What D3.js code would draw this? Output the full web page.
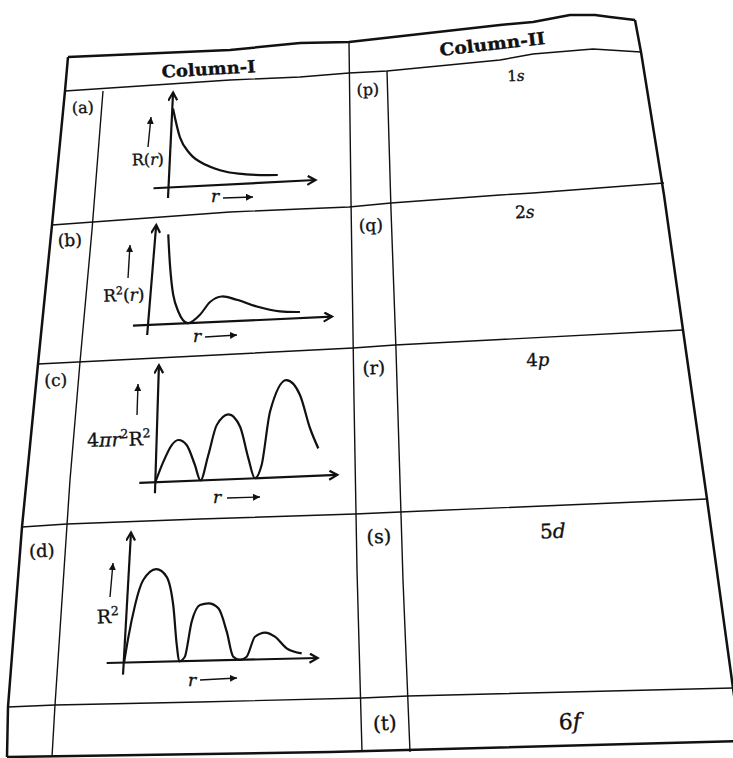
<!DOCTYPE html>
<html>
<head>
<meta charset="utf-8">
<script src="https://cdn.jsdelivr.net/npm/d3@7"></script>
<style>
body{margin:0;background:#fff;}
svg{display:block;}
text{font-family:"DejaVu Serif","Liberation Serif",serif;fill:#111;stroke:#111;stroke-width:0.35px;}
</style>
</head>
<body>
<svg id="chart" width="733" height="758"></svg>
<script>
// ---- data ----
var headers = ["Column-I", "Column-II"];
var leftLabels = ["(a)", "(b)", "(c)", "(d)"];
var rightLabels = ["(p)", "(q)", "(r)", "(s)", "(t)"];
var shellNumbers = ["1", "2", "4", "5", "6"];
var orbitalLetters = ["s", "s", "p", "d", "f"];

// y-axis captions: [text, superscript?, italic?]
var captionA = [["R",0,0],["(",0,0],["r",0,1],[")",0,0]];
var captionB = [["R",0,0],["2",1,0],["(",0,0],["r",0,1],[")",0,0]];
var captionC = [["4",0,0],["\u03c0",0,1],["r",0,1],["2",1,0],["R",0,0],["2",1,0]];
var captionD = [["R",0,0],["2",1,0]];

// curves, [r, value] on a 0..10 frame for each little plot
var curveA = [[0.05,8.3],[0.61,5.26],[1.34,3.47],[2.5,2.17],[3.88,1.35],[5.24,0.97],[7.41,0.73]];
var curveB = [[0.70,9.0],[0.93,5.93],[1.24,2.92],[1.59,1.22],[2.18,0.0],[2.79,0.8],[3.28,2.02],
  [3.89,2.53],[4.73,2.13],[5.85,1.37],[7.14,0.77],[8.23,0.62]];
var curveC = [[0,0],[0.41,1.74],[0.84,3.13],[1.19,3.54],[1.66,3.08],[2.15,1.34],[2.49,0],
  [2.87,2.15],[3.28,4.68],[3.9,5.56],[4.57,4.46],[5.08,1.73],[5.48,0],[5.82,1.11],
  [6.19,5.64],[7.02,8.29],[7.81,6.97],[8.42,4.09],[8.91,2.34]];
var curveD = [[0.02,0],[0.16,1.86],[0.42,4.41],[0.77,6.32],[1.40,7.14],[1.97,6.53],[2.39,4.34],
  [2.69,1.25],[2.87,0],[3.14,0.34],[3.39,3.02],[3.77,4.29],[4.2,4.41],[4.73,4.01],[5.23,2.19],
  [5.64,0.25],[6.0,0],[6.33,0.23],[6.7,1.75],[7.21,2.05],[7.73,1.72],[8.37,0.8],[9.16,0.39]];

// ---- layout of the scanned table (page pixels) ----
var outer = [
  [[68,57],[230,50],[300,43],[349,42],[500,25],[533,22],[570,15],[595,15],[610,17],[635,20]],
  [[635,20],[641,52],[664,195],[683,330],[707,499],[733,688],[741,745]],
  [[68,57],[65,91],[52,225],[38,364],[22,527],[8,707],[7,757]],
  [[7,757],[330,752],[740,741]]
];
var inner = [
  [[65,91],[230,80],[300,77],[349,73],[387,71],[500,60],[533,54],[593,49],[641,52]],
  [[52,225],[230,212],[300,209],[349,207],[391,203],[500,195],[533,193],[664,183]],
  [[38,364],[78,362],[353,348],[395,345],[683,330]],
  [[22,527],[67,524],[200,519],[355,514],[400,512],[707,499]],
  [[8,707],[55,705],[200,702],[362,698],[408,696],[735,688]],
  [[349,42],[351,200],[354,400],[357,570],[362,752]],
  [[387,71],[391,210],[396,350],[403,580],[410,752]],
  [[103,91],[92,230],[80,362],[70,480],[67,525],[55,705],[52,757]]
];

var svg = d3.select("#chart");
var defs = svg.append("defs");
defs.append("marker").attr("id","chev")
  .attr("markerUnits","userSpaceOnUse").attr("markerWidth",12).attr("markerHeight",12)
  .attr("refX",9).attr("refY",5).attr("orient","auto")
  .append("path").attr("d","M1,0.5 L9,5 L1,9.5")
  .attr("fill","none").attr("stroke","#111").attr("stroke-width",2.2);
defs.append("marker").attr("id","tri")
  .attr("markerUnits","userSpaceOnUse").attr("markerWidth",10).attr("markerHeight",10)
  .attr("refX",7).attr("refY",3.5).attr("orient","auto")
  .append("path").attr("d","M0,0 L7,3.5 L0,7 Z").attr("fill","#111");

var poly = d3.line();

svg.append("g").selectAll("path").data(inner).enter().append("path")
  .attr("d", poly).attr("fill","none").attr("stroke","#111").attr("stroke-width",1.4);
svg.append("g").selectAll("path").data(outer).enter().append("path")
  .attr("d", poly).attr("fill","none").attr("stroke","#111").attr("stroke-width",2.5)
  .attr("stroke-linejoin","round");

// headers
var headerPos = [{x:209,y:75,rot:-3.5,len:94},{x:493,y:50,rot:-6.5,len:106}];
svg.selectAll("text.head").data(headers).enter().append("text").attr("class","head")
  .attr("text-anchor","middle").attr("font-weight","bold").attr("font-size",17)
  .attr("textLength",function(d,i){return headerPos[i].len;})
  .attr("lengthAdjust","spacingAndGlyphs")
  .attr("transform",function(d,i){var p=headerPos[i];return "translate("+p.x+","+p.y+") rotate("+p.rot+")";})
  .text(function(d){return d;});

// row letters
var leftPos = [[83,113,16],[70,246,17],[56,386,17],[42,557,18]];
svg.selectAll("text.ll").data(leftLabels).enter().append("text").attr("class","ll")
  .attr("text-anchor","middle")
  .attr("font-size",function(d,i){return leftPos[i][2];})
  .attr("transform",function(d,i){return "translate("+leftPos[i][0]+","+leftPos[i][1]+") rotate(-2)";})
  .text(function(d){return d;});

var rightPos = [[368,95,16],[371,231,17],[374,374,18],[379,543,19],[385,730,20]];
svg.selectAll("text.rl").data(rightLabels).enter().append("text").attr("class","rl")
  .attr("text-anchor","middle")
  .attr("font-size",function(d,i){return rightPos[i][2];})
  .attr("transform",function(d,i){return "translate("+rightPos[i][0]+","+rightPos[i][1]+") rotate(-2)";})
  .text(function(d){return d;});

var orbPos = [[516,81,15],[525,218,17],[538,366,18],[553,538,20],[570,729,22]];
var orb = svg.selectAll("text.orb").data(shellNumbers).enter().append("text").attr("class","orb")
  .attr("text-anchor","middle")
  .attr("font-size",function(d,i){return orbPos[i][2];})
  .attr("transform",function(d,i){return "translate("+orbPos[i][0]+","+orbPos[i][1]+") rotate(-2)";});
orb.append("tspan").text(function(d){return d;});
orb.append("tspan").attr("font-style","italic").text(function(d,i){return orbitalLetters[i];});

// ---- the four little plots ----
var plots = [
  {ox:168.5, oy:187.5, xLen:147, yLen:95,  xBack:15, yBack:10.5, b:-0.051, c:-0.048, data:curveA,
   cap:captionA, capX:148, capY:165, capSize:16, up:[[148,147],[151,117]], r:[215,202], rArrow:[[223,198],[253,197]]},
  {ox:148, oy:325, xLen:184, yLen:100, xBack:15, yBack:10, b:-0.045, c:-0.082, data:curveB,
   cap:captionB, capX:124, capY:301, capSize:17, up:[[128,278],[130,245]], r:[197,342], rArrow:[[205,337],[237,335]]},
  {ox:155.3, oy:482.3, xLen:182, yLen:117, xBack:16, yBack:11, b:-0.0404, c:-0.031, data:curveC,
   cap:captionC, capX:119, capY:446, capSize:19, up:[[137,415],[138,384]], r:[217,503], rArrow:[[227,498],[260,497]]},
  {ox:123.7, oy:662.6, xLen:194, yLen:130, xBack:17, yBack:12, b:-0.0237, c:-0.056, data:curveD,
   cap:captionD, capX:108, capY:623, capSize:19, up:[[110,597],[113,563]], r:[192,686], rArrow:[[200,680],[237,678]]}
];

plots.forEach(function(p){
  var x = d3.scaleLinear().domain([0,10]).range([0,p.xLen]);
  var y = d3.scaleLinear().domain([0,10]).range([0,-p.yLen]);
  var g = svg.append("g")
    .attr("transform","matrix(1,"+p.b+","+p.c+",1,"+p.ox+","+p.oy+")");

  g.append("line").attr("x1",-p.xBack).attr("y1",0).attr("x2",x(10)).attr("y2",0)
    .attr("stroke","#111").attr("stroke-width",2.2).attr("marker-end","url(#chev)");
  g.append("line").attr("x1",0).attr("y1",p.yBack).attr("x2",0).attr("y2",y(10))
    .attr("stroke","#111").attr("stroke-width",2.2).attr("marker-end","url(#chev)");

  var line = d3.line()
    .x(function(d){return x(d[0]);})
    .y(function(d){return y(d[1]);})
    .curve(d3.curveMonotoneX);
  g.append("path").datum(p.data).attr("d",line)
    .attr("fill","none").attr("stroke","#111").attr("stroke-width",2.2);

  // small arrow next to the caption
  svg.append("line").attr("x1",p.up[0][0]).attr("y1",p.up[0][1])
    .attr("x2",p.up[1][0]).attr("y2",p.up[1][1])
    .attr("stroke","#111").attr("stroke-width",1.4).attr("marker-end","url(#tri)");

  var cap = svg.append("text").attr("text-anchor","middle").attr("font-size",p.capSize)
    .attr("transform","translate("+p.capX+","+p.capY+") rotate(-2)");
  var shifted = false;
  p.cap.forEach(function(part){
    var t = cap.append("tspan").text(part[0]);
    if(part[2]) t.attr("font-style","italic");
    if(part[1]){
      t.attr("font-size",p.capSize*0.65).attr("dy",-p.capSize*0.4);
      shifted = true;
    } else if(shifted){
      t.attr("dy",p.capSize*0.4);
      shifted = false;
    }
  });

  // r --> label
  svg.append("text").attr("text-anchor","middle").attr("font-size",17).attr("font-style","italic")
    .attr("x",p.r[0]).attr("y",p.r[1]).text("r");
  svg.append("line").attr("x1",p.rArrow[0][0]).attr("y1",p.rArrow[0][1])
    .attr("x2",p.rArrow[1][0]).attr("y2",p.rArrow[1][1])
    .attr("stroke","#111").attr("stroke-width",1.4).attr("marker-end","url(#tri)");
});
</script>
</body>
</html>
